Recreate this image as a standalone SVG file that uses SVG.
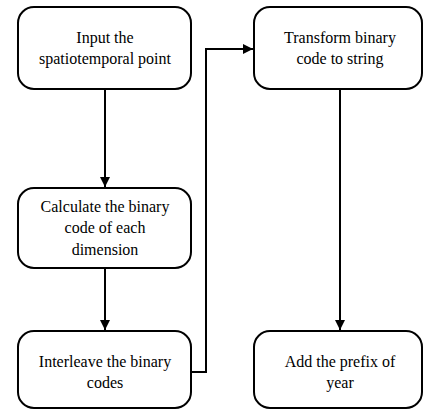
<svg xmlns="http://www.w3.org/2000/svg" width="424" height="410" viewBox="0 0 424 410">
<style>
.box{fill:#fff;stroke:#000;stroke-width:2}
.c{fill:none;stroke:#000;stroke-width:2}
text{font-family:'Liberation Serif',serif;font-size:16px;text-anchor:middle;fill:#000}
</style>
<defs>
<marker id="ah" markerWidth="10" markerHeight="10" refX="10" refY="5" orient="auto" markerUnits="userSpaceOnUse">
<path d="M0,0 L10,5 L0,10 Z" fill="#000"/>
</marker>
</defs>
<rect width="424" height="410" fill="#fff"/>
<g id="connectors">
<path class="c" d="M105,89 V187" marker-end="url(#ah)"/>
<path class="c" d="M105,268 V330" marker-end="url(#ah)"/>
<path class="c" d="M191,372 H206 V49 H253" marker-end="url(#ah)"/>
<path class="c" d="M340,89 V330" marker-end="url(#ah)"/>
</g>
<g id="n1">
<rect class="box" x="18" y="7" width="173" height="82" rx="16"/>
<text x="105" y="43" font-family="Liberation Serif">Input the</text>
<text x="105" y="64" font-family="Liberation Serif">spatiotemporal point</text>
</g>
<g id="n2">
<rect class="box" x="18" y="188" width="173" height="80" rx="16"/>
<text x="105" y="212" font-family="Liberation Serif">Calculate the binary</text>
<text x="105" y="233" font-family="Liberation Serif">code of each</text>
<text x="105" y="255" font-family="Liberation Serif">dimension</text>
</g>
<g id="n3">
<rect class="box" x="18" y="331" width="173" height="77" rx="16"/>
<text x="105" y="367" font-family="Liberation Serif">Interleave the binary</text>
<text x="105" y="388" font-family="Liberation Serif">codes</text>
</g>
<g id="n4">
<rect class="box" x="254" y="7" width="168" height="82" rx="16"/>
<text x="340" y="43" font-family="Liberation Serif">Transform binary</text>
<text x="340" y="64" font-family="Liberation Serif">code to string</text>
</g>
<g id="n5">
<rect class="box" x="254" y="331" width="168" height="77" rx="16"/>
<text x="340" y="367" font-family="Liberation Serif">Add the prefix of</text>
<text x="340" y="388" font-family="Liberation Serif">year</text>
</g>
</svg>
